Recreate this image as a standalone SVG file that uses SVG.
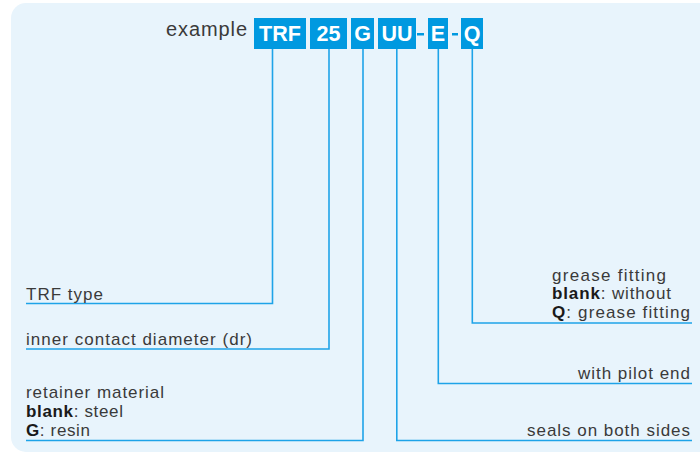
<svg xmlns="http://www.w3.org/2000/svg" width="700" height="453" viewBox="0 0 700 453">
<style>
.bg{fill:#e8f4fc}
.box{fill:#0099e0}
.bt{font-family:"Liberation Sans",Arial,sans-serif;font-weight:bold;font-size:21.5px;fill:#fff;text-anchor:middle}
.t{font-family:"Liberation Sans",Arial,sans-serif;font-size:17px;fill:#3a3a3a}
.b{font-weight:bold;fill:#1a1a1a}
.ln{fill:none;stroke:#1ea3e8;stroke-width:1.6}
</style>
<rect class="bg" x="11" y="3" width="702" height="449" rx="15"/>
<g id="example">
<text class="t" x="166" y="36" textLength="81" lengthAdjust="spacing" style="font-size:20px">example</text>
</g>
<g id="code-TRF"><rect class="box" x="254" y="18" width="52" height="31"/><text class="bt" x="280" y="41">TRF</text></g>
<g id="code-25"><rect class="box" x="310" y="18" width="37" height="31"/><text class="bt" x="328.5" y="41">25</text></g>
<g id="code-G"><rect class="box" x="351" y="18" width="23" height="31"/><text class="bt" x="362.5" y="41">G</text></g>
<g id="code-UU"><rect class="box" x="378" y="18" width="38" height="31"/><text class="bt" x="397" y="41">UU</text></g>
<g id="dash1"><rect class="box" x="417" y="33" width="7" height="2.5"/></g>
<g id="code-E"><rect class="box" x="428" y="18" width="20" height="31"/><text class="bt" x="438" y="41">E</text></g>
<g id="dash2"><rect class="box" x="452" y="33" width="6" height="2.5"/></g>
<g id="code-Q"><rect class="box" x="461" y="18" width="22" height="31"/><text class="bt" x="472" y="41">Q</text></g>
<g id="connectors">
<polyline class="ln" points="272.5,49 272.5,303.5 26,303.5"/>
<polyline class="ln" points="329,49 329,349 26,349"/>
<polyline class="ln" points="363,49 363,440.5 26,440.5"/>
<polyline class="ln" points="396.8,49 396.8,440.5 692,440.5"/>
<polyline class="ln" points="438.3,49 438.3,383.5 692,383.5"/>
<polyline class="ln" points="472.3,49 472.3,323 692,323"/>
</g>
<g id="label-type"><text class="t" x="26" y="299.5" textLength="77" lengthAdjust="spacing">TRF type</text></g>
<g id="label-diameter"><text class="t" x="26" y="344.5" textLength="226" lengthAdjust="spacing">inner contact diameter (dr)</text></g>
<g id="label-retainer">
<text class="t" x="26" y="397.5" textLength="138" lengthAdjust="spacing">retainer material</text>
<text class="t" x="26" y="416.5" textLength="97" lengthAdjust="spacing"><tspan class="b">blank</tspan>: steel</text>
<text class="t" x="26" y="435.5" textLength="64" lengthAdjust="spacing"><tspan class="b">G</tspan>: resin</text>
</g>
<g id="label-grease">
<text class="t" x="552" y="280.5" textLength="114" lengthAdjust="spacing">grease fitting</text>
<text class="t" x="552" y="298.5" textLength="119" lengthAdjust="spacing"><tspan class="b">blank</tspan>: without</text>
<text class="t" x="552" y="317.5" textLength="138" lengthAdjust="spacing"><tspan class="b">Q</tspan>: grease fitting</text>
</g>
<g id="label-pilot"><text class="t" x="578" y="378.5" textLength="112" lengthAdjust="spacing">with pilot end</text></g>
<g id="label-seals"><text class="t" x="527" y="435.5" textLength="163" lengthAdjust="spacing">seals on both sides</text></g>
</svg>
